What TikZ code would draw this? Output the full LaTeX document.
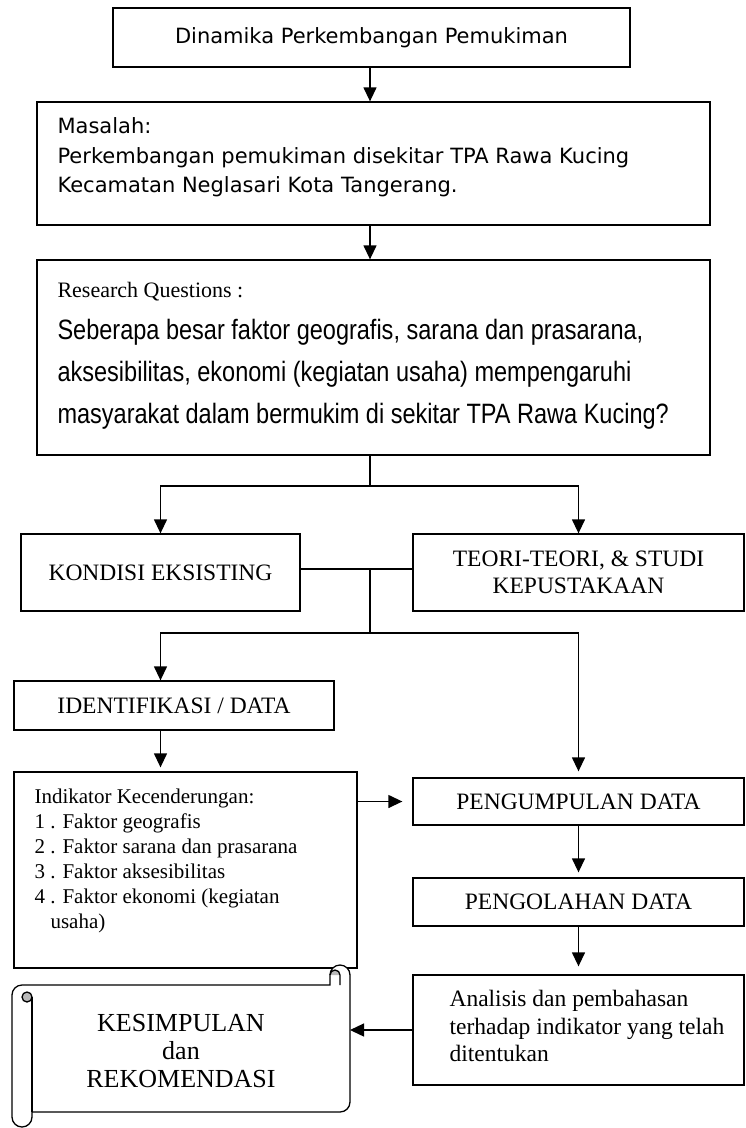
\documentclass[tikz,border=0pt]{standalone}
\usepackage{fontspec}
\setmainfont{Liberation Serif}
\newfontfamily\tahoma{DejaVu Sans}
\newfontfamily\narrowsans[FakeStretch=0.84]{Liberation Sans}
\usetikzlibrary{positioning,arrows.meta}

\begin{document}
\begin{tikzpicture}[
  x=1pt, y=-1pt,
  box/.style={draw, line width=1.3pt, inner sep=0pt,
    font=\fontsize{23.5}{27}\selectfont},
  sbox/.style={box, font=\tahoma\fontsize{21}{29.5}\selectfont},
  txt/.style={inner sep=0pt, align=left},
  wire/.style={line width=1.3pt},
  arr/.style={->, >={Triangle[length=14pt,width=13pt]}, line width=1.3pt},
  every node/.style={align=center}
]
  \useasboundingbox (0,0) rectangle (745,1128);

  \node[sbox, minimum width=517pt, minimum height=59pt] (dinamika) at (371.5,37.5) {Dinamika Perkembangan Pemukiman};
  \node[box, minimum width=673pt, minimum height=123pt] (masalah) at (373.5,163.5) {};
  \node[txt, font=\tahoma\fontsize{21}{29.5}\selectfont, below right=16pt and 21pt of masalah.north west] (masalahtxt)
    {Masalah:\\Perkembangan pemukiman disekitar TPA Rawa Kucing\\Kecamatan Neglasari Kota Tangerang.};
  \node[box, minimum width=673pt, minimum height=195pt] (rq) at (373.5,357.5) {};
  \node[txt, font=\narrowsans\fontsize{28}{42}\selectfont, below right=23pt and 21pt of rq.north west] (rqtxt)
    {{\rmfamily\fontsize{22}{26}\selectfont Research Questions :}\\
     Seberapa besar faktor geografis, sarana dan prasarana,\\
     aksesibilitas, ekonomi (kegiatan usaha) mempengaruhi\\
     masyarakat dalam bermukim di sekitar TPA Rawa Kucing?};
  \node[box, minimum width=279pt, minimum height=77pt] (kondisi) at (160.5,572.5) {KONDISI EKSISTING};
  \node[box, minimum width=331pt, minimum height=77pt] (teori) at (578.5,572.5) {TEORI-TEORI, \& STUDI\\KEPUSTAKAAN};
  \node[box, minimum width=320pt, minimum height=49pt] (ident) at (174,705.5) {IDENTIFIKASI / DATA};
  \node[box, minimum width=343pt, minimum height=196pt] (indikator) at (185.5,870) {};
  \node[txt, font=\fontsize{21}{25}\selectfont, below right=17pt and 21pt of indikator.north west] (indikatortxt)
    {Indikator Kecenderungan:\\1 . Faktor geografis\\2 . Faktor sarana dan prasarana\\3 . Faktor aksesibilitas\\4 . Faktor ekonomi (kegiatan\\\hspace*{16pt}usaha)};
  \node[box, minimum width=331pt, minimum height=47pt] (pengumpulan) at (578.5,801.5) {PENGUMPULAN DATA};
  \node[box, minimum width=331pt, minimum height=48pt] (pengolahan) at (578.5,902) {PENGOLAHAN DATA};
  \node[box, minimum width=331pt, minimum height=110pt] (analisis) at (578.5,1030) {};
  \node[txt, font=\fontsize{23.5}{27.5}\selectfont, below right=16pt and 37pt of analisis.north west] (analisistxt)
    {Analisis dan pembahasan\\terhadap indikator yang telah\\ditentukan};

  \draw[wire, fill=white] (12,995) arc[start angle=180, delta angle=90, radius=10]
    -- (330,985) -- (330,975) arc[start angle=180, delta angle=180, radius=10]
    -- (350,1102) arc[start angle=0, delta angle=90, radius=10]
    -- (32,1112) -- (32,1117) arc[start angle=0, delta angle=180, radius=10] -- cycle;
  \fill[gray!55] (340,975) arc[start angle=0, delta angle=-180, radius=5] -- cycle;
  \draw[wire] (340,985) -- (340,975) arc[start angle=0, delta angle=-180, radius=5];
  \filldraw[wire, fill=gray!55] (27,997) circle[radius=5];
  \draw[wire] (32,997) -- (32,1112);
  \node[font=\fontsize{26}{28}\selectfont] (kesimpulan) at (181,1051) {KESIMPULAN\\dan\\REKOMENDASI};
  \coordinate (scrolledge) at (350,1030);

  \coordinate (spine) at (370,0);
  \coordinate (fork1) at (370,486);
  \coordinate (fork2) at (370,569);
  \coordinate (fork3) at (370,633);
  \draw[arr] (dinamika.south -| spine) -- (masalah.north -| spine);
  \draw[arr] (masalah.south -| spine) -- (rq.north -| spine);
  \draw[wire] (rq.south -| fork1) -- (fork1);
  \draw[arr] (fork1) -| (kondisi.north);
  \draw[arr] (fork1) -| (teori.north);
  \draw[wire] (kondisi.east |- fork2) -- (teori.west |- fork2);
  \draw[wire] (fork2) -- (fork3);
  \draw[arr] (fork3) -| (ident.north -| kondisi.north);
  \draw[arr, shorten >=6pt] (fork3) -| (pengumpulan.north);
  \draw[arr, shorten >=4pt] (ident.south -| kondisi.north) -- (indikator.north -| kondisi.north);
  \draw[arr, shorten >=10pt] (indikator.east |- pengumpulan.west) -- (pengumpulan.west);
  \draw[arr, shorten >=5pt] (pengumpulan) -- (pengolahan);
  \draw[arr, shorten >=8pt] (pengolahan) -- (analisis);
  \draw[arr] (analisis.west) -- (scrolledge);
\end{tikzpicture}
\end{document}
